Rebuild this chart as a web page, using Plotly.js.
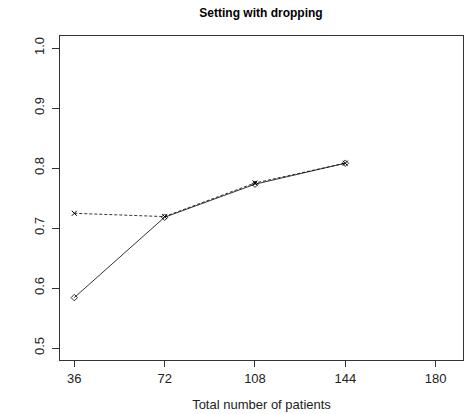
<!DOCTYPE html>
<html>
<head>
<meta charset="utf-8">
<script src="https://cdn.plot.ly/plotly-3.0.1.min.js"></script>
<style>html,body{margin:0;padding:0;background:#fff;}#chart{width:475px;height:414px;}</style>
</head>
<body>
<div id="chart"></div>
<script>
const patients = [36, 72, 108, 144];
const seriesSolid = [0.584, 0.718, 0.773, 0.808];
const seriesDashed = [0.7245, 0.719, 0.775, 0.808];
const xTicks = [36, 72, 108, 144, 180];
const yTicks = [0.5, 0.6, 0.7, 0.8, 0.9, 1.0];
const yTickText = ["0.5", "0.6", "0.7", "0.8", "0.9", "1.0"];

const font = {family: "Liberation Sans, Arial, sans-serif", size: 13, color: "#222"};

const traces = [
  {x: patients, y: seriesSolid, type: "scatter", mode: "lines+markers",
   line: {color: "#000", width: 0.8, dash: "solid"},
   marker: {symbol: "diamond-open", size: 5, color: "#000", line: {width: 0.8, color: "#000"}},
   showlegend: false},
  {x: patients, y: seriesDashed, type: "scatter", mode: "lines+markers",
   line: {color: "#000", width: 0.8, dash: "3px,2px"},
   marker: {symbol: "x-thin-open", size: 5, color: "#000", line: {width: 1, color: "#000"}},
   showlegend: false}
];

const layout = {
  width: 475, height: 414,
  margin: {l: 60, r: 12, t: 36, b: 54},
  paper_bgcolor: "#fff", plot_bgcolor: "#fff",
  font: font,
  title: {text: "Setting with dropping", font: {family: "Liberation Sans, Arial, sans-serif", size: 12, weight: "bold", color: "#000"},
          x: 0.5495, xanchor: "center", y: 1 - 13/414, yanchor: "middle", yref: "container"},
  xaxis: {range: [30.3, 190.9], tickvals: xTicks, ticktext: xTicks.map(String),
          showgrid: false, zeroline: false, showline: true, mirror: true, linecolor: "#333", linewidth: 1,
          ticks: "outside", ticklen: 6, tickcolor: "#333", tickwidth: 1,
          tickfont: font,
          title: {text: "Total number of patients", font: font, standoff: 15}},
  yaxis: {range: [0.48, 1.02], tickvals: yTicks, ticktext: yTickText, tickangle: -90,
          showgrid: false, zeroline: false, showline: true, mirror: true, linecolor: "#333", linewidth: 1,
          ticks: "outside", ticklen: 7, tickcolor: "#333", tickwidth: 1, ticklabelstandoff: 3,
          tickfont: font}
};

Plotly.newPlot("chart", traces, layout, {displayModeBar: false, staticPlot: true});
</script>
</body>
</html>
